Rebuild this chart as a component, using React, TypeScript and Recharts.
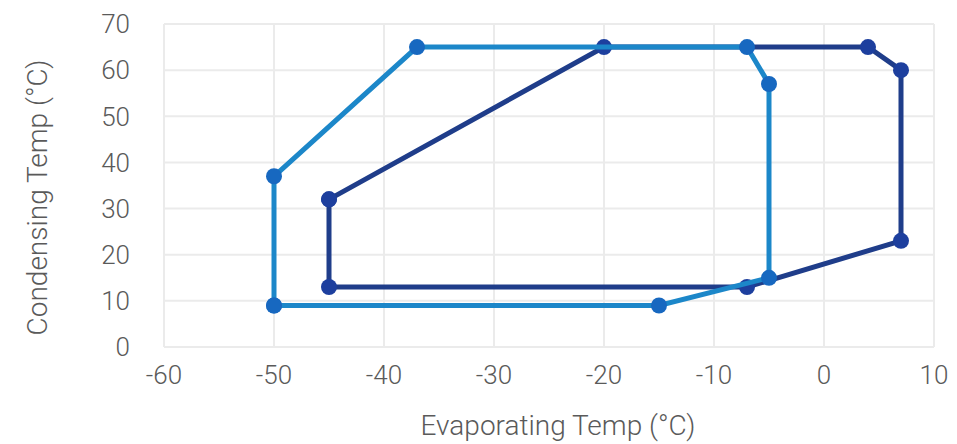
import { ScatterChart, Scatter, XAxis, YAxis, CartesianGrid } from "recharts";

type Pt = { x: number; y: number };

// outer envelope (lighter blue), closed by repeating the first point
const outerEvap = [-50, -50, -37, -7, -5, -5, -15, -50];
const outerCond = [9, 37, 65, 65, 57, 15, 9, 9];

// inner envelope (dark blue)
const innerEvap = [-45, -20, 4, 7, 7, -7, -45, -45];
const innerCond = [32, 65, 65, 60, 23, 13, 13, 32];

const xTicks = [-60, -50, -40, -30, -20, -10, 0, 10];
const yTicks = [0, 10, 20, 30, 40, 50, 60, 70];

const toPts = (xs: number[], ys: number[]): Pt[] => xs.map((x, i) => ({ x, y: ys[i] }));

const outer = toPts(outerEvap, outerCond);
const inner = toPts(innerEvap, innerCond);

const FONT = "Roboto, 'Open Sans', sans-serif";
const TXT = "#5a5a5a";

function YLabel(props: any) {
  const vb = props.viewBox || { x: 0, y: 0, width: 0, height: 0 };
  const cx = vb.x + 37;
  const cy = vb.y + vb.height / 2 + 12;
  return (
    <text
      x={cx}
      y={cy}
      transform={`rotate(-90, ${cx}, ${cy})`}
      textAnchor="middle"
      dominantBaseline="central"
      fill={TXT}
      fontSize={28}
      fontWeight={300}
      fontFamily={FONT}
    >
      Condensing Temp (°C)
    </text>
  );
}

function XLabel(props: any) {
  const vb = props.viewBox || { x: 0, y: 0, width: 0, height: 0 };
  return (
    <text
      x={vb.x + vb.width / 2 + 9}
      y={vb.y + 78}
      textAnchor="middle"
      dominantBaseline="central"
      fill={TXT}
      fontSize={28}
      fontWeight={300}
      fontFamily={FONT}
    >
      Evaporating Temp (°C)
    </text>
  );
}

export default function App() {
  const tick = { fontSize: 26, fontWeight: 300, fill: TXT, fontFamily: FONT };
  return (
    <div style={{ position: "absolute", left: 0, top: 0, background: "#fff" }}>
      <ScatterChart width={957} height={444} margin={{ top: 24, right: 23, left: 0, bottom: 0 }}>
        <CartesianGrid stroke="#ebebeb" strokeWidth={2} />
        <XAxis
          type="number"
          dataKey="x"
          domain={[-60, 10]}
          ticks={xTicks}
          height={97}
          axisLine={false}
          tickLine={false}
          tickMargin={13}
          tick={tick}
          label={{ content: XLabel }}
        />
        <YAxis
          type="number"
          dataKey="y"
          domain={[0, 70]}
          ticks={yTicks}
          width={164}
          axisLine={false}
          tickLine={false}
          tickMargin={28}
          tick={tick}
          label={{ content: YLabel }}
        />
        <Scatter
          data={inner}
          line={{ stroke: "#1f3d8a", strokeWidth: 5 }}
          lineType="joint"
          fill="#1d3f9e"
          shape={(p: any) => <circle cx={p.cx} cy={p.cy} r={8} fill="#1d3f9e" />}
          isAnimationActive={false}
        />
        <Scatter
          data={outer}
          line={{ stroke: "#1c87c9", strokeWidth: 5 }}
          lineType="joint"
          fill="#1768c0"
          shape={(p: any) => <circle cx={p.cx} cy={p.cy} r={8} fill="#1768c0" />}
          isAnimationActive={false}
        />
      </ScatterChart>
    </div>
  );
}
